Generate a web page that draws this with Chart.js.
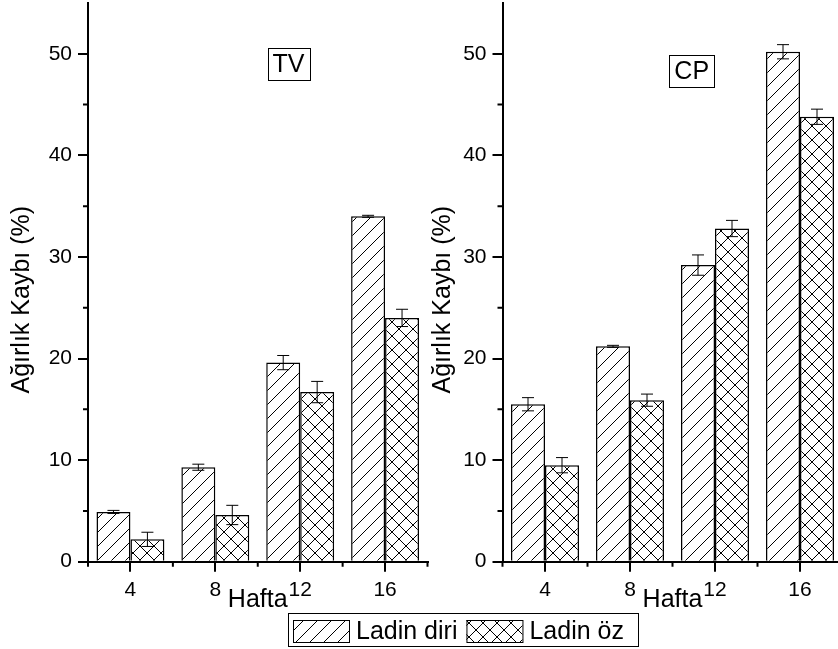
<!DOCTYPE html>
<html>
<head>
<meta charset="utf-8">
<title>Ağırlık Kaybı</title>
<script src="https://cdn.jsdelivr.net/npm/chart.js@4.4.1/dist/chart.umd.min.js"></script>
<style>
html, body { margin: 0; padding: 0; background: #fff; overflow: hidden; }
#wrap { position: relative; width: 838px; height: 649px; overflow: hidden; }
canvas { position: absolute; left: 0; top: 0; }
</style>
</head>
<body>
<div id="wrap">
  <canvas id="tv" width="860" height="649"></canvas>
  <canvas id="cp" width="860" height="649"></canvas>
</div>
<script>
// data
const weeks = ['4', '8', '12', '16'];
const seriesNames = ['Ladin diri', 'Ladin öz'];
const panelNames = ['TV', 'CP'];

const tvDiri = [4.9, 9.3, 19.6, 34.0];
const tvDiriErr = [0.15, 0.3, 0.7, 0.1];
const tvOz = [2.2, 4.6, 16.7, 24.0];
const tvOzErr = [0.7, 0.95, 1.05, 0.85];

const cpDiri = [15.5, 21.2, 29.2, 50.2];
const cpDiriErr = [0.65, 0.1, 1.0, 0.7];
const cpOz = [9.5, 15.9, 32.8, 43.8];
const cpOzErr = [0.75, 0.6, 0.8, 0.75];

const yTicks = [0, 10, 20, 30, 40, 50];
const yMinor = [5, 15, 25, 35, 45];
const yMax = 55;
const yTitle = 'Ağırlık Kaybı (%)';
const xTitle = 'Hafta';

const FONT = "'Liberation Sans', Arial, sans-serif";
Chart.defaults.font.family = FONT;
Chart.defaults.color = '#000';

// hatch fills
function hatch(cross) {
    const s = 14;
    const c = document.createElement('canvas');
    c.width = s; c.height = s;
    const g = c.getContext('2d');
    g.fillStyle = '#fff';
    g.fillRect(0, 0, s, s);
    g.strokeStyle = '#000';
    g.lineWidth = 1;
    g.beginPath();
    g.moveTo(0, s); g.lineTo(s, 0);
    g.moveTo(-s / 2, s / 2); g.lineTo(s / 2, -s / 2);
    g.moveTo(s / 2, s * 1.5); g.lineTo(s * 1.5, s / 2);
    if (cross) {
        g.moveTo(0, 0); g.lineTo(s, s);
        g.moveTo(-s / 2, s / 2); g.lineTo(s / 2, s * 1.5);
        g.moveTo(s / 2, -s / 2); g.lineTo(s * 1.5, s / 2);
    }
    g.stroke();
    return g.createPattern(c, 'repeat');
}
const diriFill = hatch(false);
const ozFill = hatch(true);

const errorBars = {
    id: 'errorBars',
    afterDatasetsDraw(chart) {
        const ctx = chart.ctx;
        const y = chart.scales.y;
        ctx.save();
        ctx.strokeStyle = '#000';
        ctx.lineWidth = 1;
        chart.data.datasets.forEach((ds, i) => {
            chart.getDatasetMeta(i).data.forEach((bar, j) => {
                const v = ds.data[j], e = ds.errors[j];
                const top = y.getPixelForValue(v + e);
                const bot = y.getPixelForValue(v - e);
                ctx.beginPath();
                ctx.moveTo(bar.x, top); ctx.lineTo(bar.x, bot);
                ctx.moveTo(bar.x - 6, top); ctx.lineTo(bar.x + 6, top);
                ctx.moveTo(bar.x - 6, bot); ctx.lineTo(bar.x + 6, bot);
                ctx.stroke();
            });
        });
        ctx.restore();
    }
};

const minorTicks = {
    id: 'minorTicks',
    afterDraw(chart) {
        const { ctx, scales: { x, y } } = chart;
        ctx.save();
        ctx.strokeStyle = '#000';
        ctx.lineWidth = 2;
        ctx.beginPath();
        yMinor.forEach(v => {
            const p = y.getPixelForValue(v);
            ctx.moveTo(y.right - 5, p); ctx.lineTo(y.right, p);
        });
        const band = x.getPixelForValue(1) - x.getPixelForValue(0);
        const start = x.getPixelForValue(0) - band / 2;
        for (let i = 0; i <= weeks.length; i++) {
            const p = start + i * band;
            ctx.moveTo(p, x.top); ctx.lineTo(p, x.top + 5);
        }
        ctx.stroke();
        ctx.restore();
    }
};

const panelLabel = {
    id: 'panelLabel',
    afterDraw(chart, args, o) {
        const ctx = chart.ctx;
        ctx.save();
        ctx.font = '25px ' + FONT;
        const w = ctx.measureText(o.text).width + 10;
        const h = 32;
        ctx.strokeStyle = '#000';
        ctx.lineWidth = 1;
        ctx.strokeRect(Math.round(o.x - w / 2) + 0.5, Math.round(o.y - h / 2) + 0.5, Math.round(w), h);
        ctx.fillStyle = '#000';
        ctx.textAlign = 'center';
        ctx.textBaseline = 'middle';
        ctx.fillText(o.text, o.x, o.y + 1);
        ctx.restore();
    }
};

const legendBox = {
    id: 'legendBox',
    afterDraw(chart, args, o) {
        if (!o.show) return;
        const ctx = chart.ctx;
        ctx.save();
        ctx.font = '25px ' + FONT;
        ctx.strokeStyle = '#000';
        ctx.lineWidth = 1;
        ctx.strokeRect(o.x + 0.5, o.y + 0.5, o.w, o.h);
        let x = o.x + 5;
        chart.data.datasets.forEach(ds => {
            ctx.fillStyle = ds.backgroundColor;
            ctx.fillRect(x, o.y + 7, 56, 22);
            ctx.strokeRect(x + 0.5, o.y + 7.5, 56, 22);
            ctx.fillStyle = '#000';
            ctx.textBaseline = 'alphabetic';
            ctx.fillText(ds.label, x + 63, o.y + 26);
            x += 63 + ctx.measureText(ds.label).width + 9;
        });
        ctx.restore();
    }
};

function panel(id, name, diri, diriErr, oz, ozErr, pos) {
    return new Chart(document.getElementById(id), {
        type: 'bar',
        data: {
            labels: weeks,
            datasets: [
                { label: seriesNames[0], data: diri, errors: diriErr, backgroundColor: diriFill, borderColor: '#000', borderWidth: 1.5 },
                { label: seriesNames[1], data: oz, errors: ozErr, backgroundColor: ozFill, borderColor: '#000', borderWidth: 1.5 }
            ]
        },
        options: {
            responsive: false,
            animation: false,
            layout: { padding: { left: pos.left - 88, right: 860 - pos.right, top: 3, bottom: 0 } },
            datasets: { bar: { categoryPercentage: 0.8, barPercentage: 1 } },
            plugins: {
                legend: { display: false },
                tooltip: { enabled: false },
                panelLabel: { text: name, x: pos.labelX, y: pos.labelY },
                legendBox: { show: pos.legend, x: 288, y: 613, w: 350, h: 33 }
            },
            scales: {
                x: {
                    grid: { offset: false, drawOnChartArea: false, tickLength: 10, color: '#000', lineWidth: 2 },
                    border: { color: '#000', width: 2 },
                    ticks: { font: { size: 21 }, padding: 6, maxRotation: 0 },
                    title: { display: true, text: xTitle, font: { size: 25 }, padding: { top: 0, bottom: 34 } },
                    afterFit: s => { s.height = 649 - 561.7; s.paddingLeft = 0; s.paddingRight = 0; }
                },
                y: {
                    min: 0,
                    max: yMax,
                    afterBuildTicks: s => { s.ticks = yTicks.map(v => ({ value: v })); },
                    grid: { drawOnChartArea: false, tickLength: 10, color: '#000', lineWidth: 2 },
                    border: { color: '#000', width: 2 },
                    ticks: { font: { size: 21 }, padding: 6 },
                    title: { display: true, text: yTitle + '     ', font: { size: 25 }, padding: { top: pos.titlePad, bottom: 0 } },
                    afterFit: s => { s.width = 88; s.paddingTop = 0; s.paddingBottom = 0; }
                }
            }
        },
        plugins: [errorBars, minorTicks, panelLabel, legendBox]
    });
}

panel('tv', panelNames[0], tvDiri, tvDiriErr, tvOz, tvOzErr,
    { left: 88, right: 427.5, titlePad: 7, labelX: 288.5, labelY: 64.3, legend: true });
panel('cp', panelNames[1], cpDiri, cpDiriErr, cpOz, cpOzErr,
    { left: 502.5, right: 842.5, titlePad: 13.5, labelX: 691.7, labelY: 70.8, legend: false });
</script>
</body>
</html>
